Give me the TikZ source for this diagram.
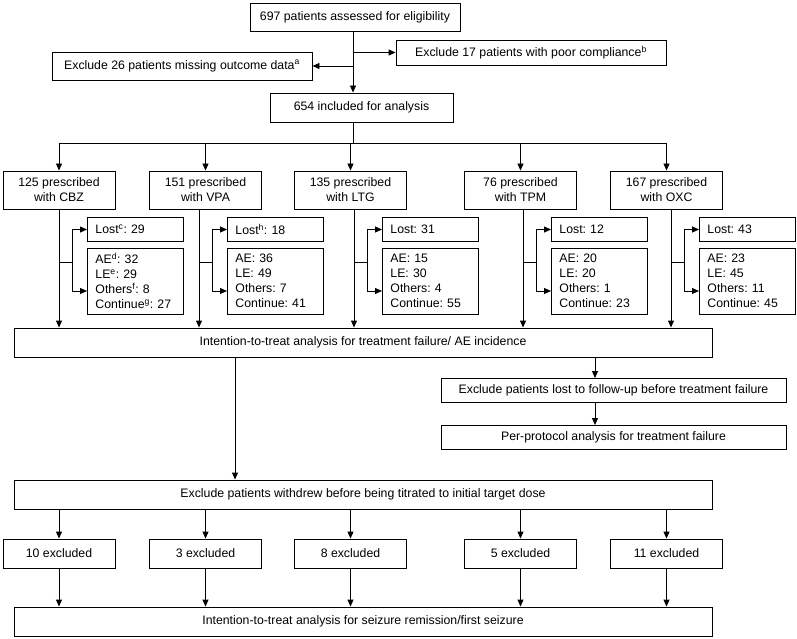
\documentclass[tikz,border=0pt]{standalone}
\usepackage{fontspec}
\setmainfont{Liberation Sans}
\usetikzlibrary{arrows.meta}

\tikzset{
  flowbox/.style={draw, line width=0.9pt, inner sep=0pt, align=center,
    font=\fontsize{12.3}{15}\selectfont\frenchspacing},
  countbox/.style={flowbox, anchor=west, align=left, text width=80pt, inner xsep=8pt},
  arrowline/.style={-{Triangle[length=7pt,width=6pt]}},
}

\begin{document}
\begin{tikzpicture}[x=1pt, y=-1pt, line width=0.9pt]
	\useasboundingbox (0,0) rectangle (797,639);

	% enrolment
	\node[flowbox, minimum width=210, minimum height=28] (assess) at (355,17) {697 patients assessed for eligibility};
	\node[flowbox, minimum width=270, minimum height=25] (poor) at (531,52.5) {Exclude 17 patients with poor compliance\textsuperscript{b}};
	\node[flowbox, minimum width=260, minimum height=28] (missing) at (182,66) {Exclude 26 patients missing outcome data\textsuperscript{a}};
	\node[flowbox, minimum width=183, minimum height=29] (incl) at (361.5,107.5) {654 included for analysis};

	\coordinate (trunk) at (353,0);
	\draw[arrowline] (assess.south -| trunk) -- (incl.north -| trunk);
	\draw[arrowline] (trunk |- poor.west) -- (poor.west);
	\draw[arrowline] (trunk |- missing.east) -- (missing.east);

	% one column per drug
	\foreach \i/\cx/\lx/\n/\drug/\lost/\ae in {
		1/59/59/125/CBZ/{Lost\textsuperscript{c}: 29}/{AE\textsuperscript{d}: 32\\LE\textsuperscript{e}: 29\\Others\textsuperscript{f}: 8\\Continue\textsuperscript{g}: 27},
		2/205.5/199/151/VPA/{Lost\textsuperscript{h}: 18}/{AE: 36\\LE: 49\\Others: 7\\Continue: 41},
		3/350.5/354/135/LTG/{Lost: 31}/{AE: 15\\LE: 30\\Others: 4\\Continue: 55},
		4/520.5/523/76/TPM/{Lost: 12}/{AE: 20\\LE: 20\\Others: 1\\Continue: 23},
		5/666.5/671/167/OXC/{Lost: 43}/{AE: 23\\LE: 45\\Others: 11\\Continue: 45}}
	{
		\node[flowbox, minimum width=112, minimum height=38] (drug\i) at (\cx,190) {\n{} prescribed\\with \drug};
		\coordinate (down\i) at (\lx,0);
		\node[countbox, minimum height=24] (lost\i) at (\lx+28,229.5) {\lost};
		\node[countbox, minimum height=66] (ae\i) at (\lx+28,281) {\ae};
	}

	\coordinate (split) at (353,143);
	\draw (incl.south -| trunk) -- (split);
	\draw (drug1.north |- split) -- (drug5.north |- split);

	\node[flowbox, minimum width=698, minimum height=29] (itt) at (363,342.5) {Intention-to-treat analysis for treatment failure/ AE incidence};

	\foreach \i in {1,...,5}
	{
		\draw[arrowline] (drug\i.north |- split) -- (drug\i.north);
		\draw[arrowline] (drug\i.south -| down\i) -- (itt.north -| down\i);
		\path (down\i) ++(13,262) coordinate (fork\i);
		\draw (down\i |- fork\i) -- (fork\i);
		\draw[arrowline] (fork\i) |- (lost\i.west);
		\draw[arrowline] (fork\i) |- ([yshift=-10pt]ae\i.west);
	}

	% per-protocol branch
	\node[flowbox, minimum width=345, minimum height=24] (lostfu) at (613.5,390.5) {Exclude patients lost to follow-up before treatment failure};
	\node[flowbox, minimum width=345, minimum height=24] (pp) at (613.5,437.5) {Per-protocol analysis for treatment failure};
	\coordinate (ppline) at (595,0);
	\draw[arrowline] (itt.south -| ppline) -- (lostfu.north -| ppline);
	\draw[arrowline] (lostfu.south -| ppline) -- (pp.north -| ppline);

	% seizure outcomes
	\node[flowbox, minimum width=698, minimum height=29] (withdrew) at (363,494.5) {Exclude patients withdrew before being titrated to initial target dose};
	\coordinate (wline) at (235,0);
	\draw[arrowline] (itt.south -| wline) -- (withdrew.north -| wline);

	\node[flowbox, minimum width=698, minimum height=29] (final) at (363,621.5) {Intention-to-treat analysis for seizure remission/first seizure};

	\foreach \i/\m in {1/10,2/3,3/8,4/5,5/11}
	{
		\path (drug\i) ++(0,363.5) node[flowbox, minimum width=112, minimum height=29] (excl\i) {\m{} excluded};
		\draw[arrowline] (excl\i.north |- withdrew.south) -- (excl\i.north);
		\draw[arrowline] (excl\i.south) -- (excl\i.south |- final.north);
	}
\end{tikzpicture}
\end{document}
